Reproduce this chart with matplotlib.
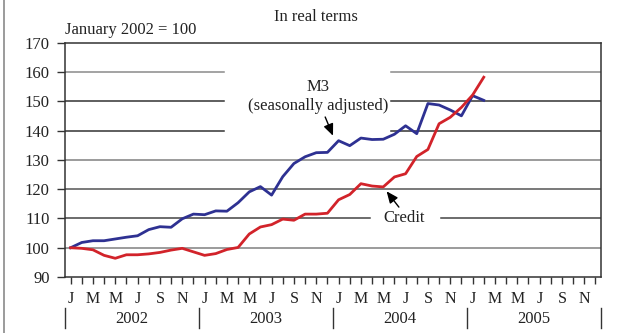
import matplotlib
matplotlib.use("Agg")
import matplotlib.pyplot as plt
import matplotlib.transforms as mtransforms
from matplotlib.lines import Line2D

# monthly index, January 2002 = 100 (Jan 2002 .. Feb 2005)
m3 = [100.0, 101.8, 102.4, 102.4, 103.0, 103.6, 104.1, 106.2, 107.2, 107.0, 109.9, 111.5,
      111.3, 112.6, 112.5, 115.4, 119.1, 120.9, 118.0, 124.3, 128.8, 131.1, 132.5, 132.6,
      136.6, 134.9, 137.5, 137.0, 137.1, 138.8, 141.7, 139.0, 149.3, 148.8, 147.1, 145.1,
      152.0, 150.4]
credit = [100.0, 99.8, 99.3, 97.4, 96.4, 97.6, 97.6, 97.9, 98.4, 99.2, 99.8, 98.6,
          97.4, 98.0, 99.4, 100.1, 104.7, 107.1, 107.9, 109.8, 109.4, 111.5, 111.5, 111.8,
          116.4, 118.2, 121.9, 121.1, 120.8, 124.2, 125.3, 131.2, 133.6, 142.4, 144.6, 148.0,
          152.2, 158.3]
month_letters = ["J", "F", "M", "A", "M", "J", "J", "A", "S", "O", "N", "D"]
years = ["2002", "2003", "2004", "2005"]

plt.rcParams["font.family"] = ["Liberation Serif", "DejaVu Serif"]
dark = "#333333"
txt = "#222222"
fs = 12

fig = plt.figure(figsize=(6.21, 3.33), dpi=100)
ax = fig.add_axes([65 / 621, 1 - 277 / 333, 536 / 621, 234 / 333])

n_months = 12 * len(years)
ax.set_xlim(-0.5, n_months - 0.5)
ax.set_ylim(90, 170)

# horizontal rules, some broken to leave room for the labels
grid = {
    160: ("#8a8a8a", [(0, 0.297), (0.608, 1)]),
    150: ("#333333", [(0, 0.297), (0.608, 1)]),
    140: ("#333333", [(0, 0.297), (0.608, 1)]),
    130: ("#808080", [(0, 1)]),
    120: ("#555555", [(0, 1)]),
    110: ("#444444", [(0, 0.569), (0.701, 1)]),
    100: ("#808080", [(0, 1)]),
}
for yv, (col, segs) in grid.items():
    for a, b in segs:
        ax.axhline(yv, xmin=a, xmax=b, color=col, lw=1.1, zorder=1)

x = list(range(len(m3)))
ax.plot(x, m3, color="#2e3192", lw=2.0, zorder=3)
ax.plot(x, credit, color="#d2232a", lw=2.0, zorder=3)

for s in ax.spines.values():
    s.set_color(dark)
    s.set_linewidth(1.1)

ax.set_yticks(range(90, 171, 10))
ax.tick_params(axis="y", direction="out", length=6, width=1, color=dark,
               labelsize=fs, pad=5, labelcolor=txt)
ax.set_xticks(range(n_months))
ax.set_xticklabels([month_letters[i % 12] if i % 2 == 0 else "" for i in range(n_months)])
ax.tick_params(axis="x", direction="out", length=5, width=1, color=dark,
               labelsize=11.5, pad=5, labelcolor=txt)

# year row under the month letters
trans = mtransforms.blended_transform_factory(ax.transData, ax.transAxes)
for k, yr in enumerate(years):
    ax.text(12 * k + 5.5, -0.18, yr, transform=trans, ha="center", va="center",
            fontsize=fs, color=txt)
for k in range(len(years) + 1):
    ax.plot([12 * k - 0.5] * 2, [-0.132, -0.218], transform=trans, color=dark,
            lw=1, clip_on=False)

fig.text(316 / 621, 1 - 17 / 333, "In real terms", ha="center", va="center",
         fontsize=fs, color=txt)
fig.text(65 / 621, 1 - 30 / 333, "January 2002 = 100", ha="left", va="center",
         fontsize=fs, color=txt)

ax.text(22.2, 155.0, "M3", ha="center", va="center", fontsize=fs, color=txt)
ax.text(22.2, 148.5, "(seasonally adjusted)", ha="center", va="center",
        fontsize=fs, color=txt)
ax.annotate("", xy=(23.5, 138.3), xytext=(22.8, 144.7),
            arrowprops=dict(arrowstyle="-|>,head_length=0.7,head_width=0.3",
                            color="black", lw=1, shrinkA=0, shrinkB=0))
ax.text(29.9, 110.2, "Credit", ha="center", va="center", fontsize=fs, color=txt)
ax.annotate("", xy=(28.3, 119.3), xytext=(29.4, 113.9),
            arrowprops=dict(arrowstyle="-|>,head_length=0.7,head_width=0.3",
                            color="black", lw=1, shrinkA=0, shrinkB=0))

# thin frame line down the left edge
fig.add_artist(Line2D([3.5 / 621] * 2, [0, 1], transform=fig.transFigure,
                      color="#8a8a8a", lw=1.2))

fig.savefig("out.png", dpi=100)
